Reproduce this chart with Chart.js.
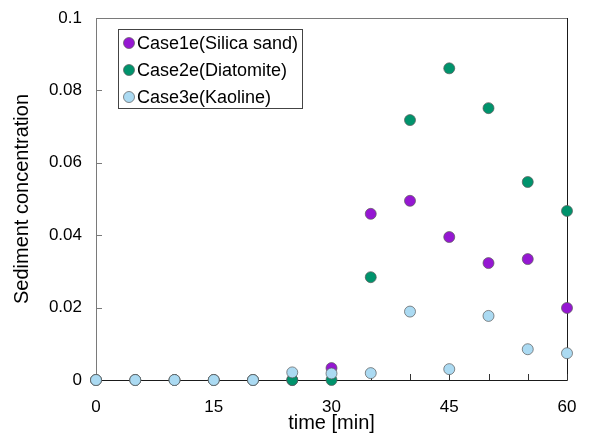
<!DOCTYPE html>
<html>
<head>
<meta charset="utf-8">
<script src="https://cdn.jsdelivr.net/npm/chart.js@4"></script>
<style>
html,body{margin:0;padding:0;background:#fff;}
#wrap{width:590px;height:435px;}
</style>
</head>
<body>
<div id="wrap"><canvas id="c" width="590" height="435"></canvas></div>
<script>
const times = [0, 5, 10, 15, 20, 25, 30, 35, 40, 45, 50, 55, 60];
const case1e = [0, 0, 0, 0, 0, 0, 0.0033, 0.0459, 0.0495, 0.0395, 0.0323, 0.0334, 0.0199];
const case2e = [0, 0, 0, 0, 0, 0, 0, 0.0284, 0.0718, 0.0861, 0.0751, 0.0547, 0.0467];
const case3e = [0, 0, 0, 0, 0, 0.0021, 0.0018, 0.0019, 0.0189, 0.0030, 0.0177, 0.0085, 0.0074];
const seriesNames = ['Case1e(Silica sand)', 'Case2e(Diatomite)', 'Case3e(Kaoline)'];
const seriesColors = ['#9517D2', '#00936C', '#ABDAF2'];
const xLabelTicks = [0, 15, 30, 45, 60];

const FONT = "'Liberation Sans', Arial, sans-serif";

function pts(arr){ return times.map((t,i)=>({x:t,y:arr[i]})); }

const frame = {
  id:'frame',
  beforeDatasetsDraw(chart){
    const {ctx, chartArea:a, scales} = chart;
    ctx.save();
    ctx.lineWidth = 1;
    ctx.strokeStyle = '#7a7a7a';
    ctx.beginPath();
    ctx.moveTo(a.left+0.5, a.bottom); ctx.lineTo(a.left+0.5, a.top+0.5); ctx.lineTo(a.right, a.top+0.5);
    ctx.stroke();
    ctx.strokeStyle = '#1a1a1a';
    ctx.beginPath();
    ctx.moveTo(a.left, a.bottom+0.5); ctx.lineTo(a.right+0.5, a.bottom+0.5); ctx.lineTo(a.right+0.5, a.top);
    ctx.stroke();
    ctx.strokeStyle = '#333';
    scales.x.ticks.forEach((t,i)=>{
      const px = Math.round(scales.x.getPixelForTick(i))+0.5;
      ctx.beginPath(); ctx.moveTo(px, a.bottom); ctx.lineTo(px, a.bottom-6); ctx.stroke();
    });
    ctx.strokeStyle = '#7a7a7a';
    scales.y.ticks.forEach((t,i)=>{
      const py = Math.round(scales.y.getPixelForTick(i))+0.5;
      ctx.beginPath(); ctx.moveTo(a.left, py); ctx.lineTo(a.left+6, py); ctx.stroke();
    });
    ctx.restore();
  },
  afterDraw(chart){
    const ctx = chart.ctx;
    ctx.save();
    const bx=118.5, by=29.5, bw=184, bh=79;
    ctx.fillStyle='#fff';
    ctx.fillRect(bx,by,bw,bh);
    ctx.strokeStyle='#444'; ctx.lineWidth=1;
    ctx.strokeRect(bx,by,bw,bh);
    ctx.font = "18px " + FONT;
    ctx.textBaseline='middle';
    chart.data.datasets.forEach((ds,i)=>{
      const cy = 43 + i*27;
      ctx.beginPath();
      ctx.arc(129, cy, 5.5, 0, Math.PI*2);
      ctx.fillStyle = ds.backgroundColor; ctx.fill();
      ctx.strokeStyle = 'rgba(90,90,90,0.7)'; ctx.stroke();
      ctx.fillStyle = '#000';
      ctx.fillText(ds.label, 137, cy+1);
    });
    ctx.restore();
  }
};

const datasets = [case1e, case2e, case3e].map((arr,i)=>({
  label: seriesNames[i],
  data: pts(arr),
  backgroundColor: seriesColors[i],
  borderColor: 'rgba(90,90,90,0.7)',
  borderWidth: 1,
  pointRadius: 5.5,
  clip: false,
  order: 2 - i
}));

new Chart(document.getElementById('c'), {
  type: 'scatter',
  data: { datasets },
  options: {
    responsive: false,
    animation: false,
    layout: { padding: { left: 0, top: 18, right: 23, bottom: 0 } },
    plugins: { legend: { display: false }, tooltip: { enabled: false } },
    scales: {
      x: {
        type: 'linear', min: 0, max: 60,
        ticks: { stepSize: 5, autoSkip: false, maxRotation: 0, padding: 17, color: '#000',
                 font: { family: FONT, size: 17 },
                 callback: v => xLabelTicks.includes(v) ? String(v) : '' },
        grid: { display: false, drawTicks: false },
        border: { display: false },
        title: { display: true, text: 'time [min]', color: '#000', font: { family: FONT, size: 20 }, padding: { top: 2, bottom: 0 } },
        afterFit(s){ s.height = 55; s.paddingLeft = 0; s.paddingRight = 0; }
      },
      y: {
        min: 0, max: 0.1,
        ticks: { stepSize: 0.02, padding: 14, color: '#000', font: { family: FONT, size: 17 },
                 callback: v => String(+v.toFixed(2)) },
        grid: { display: false, drawTicks: false },
        border: { display: false },
        title: { display: true, text: 'Sediment concentration', color: '#000', font: { family: FONT, size: 20 }, padding: { top: 10, bottom: 4 } },
        afterFit(s){ s.width = 96; s.paddingTop = 0; s.paddingBottom = 0; }
      }
    }
  },
  plugins: [frame]
});
</script>
</body>
</html>
